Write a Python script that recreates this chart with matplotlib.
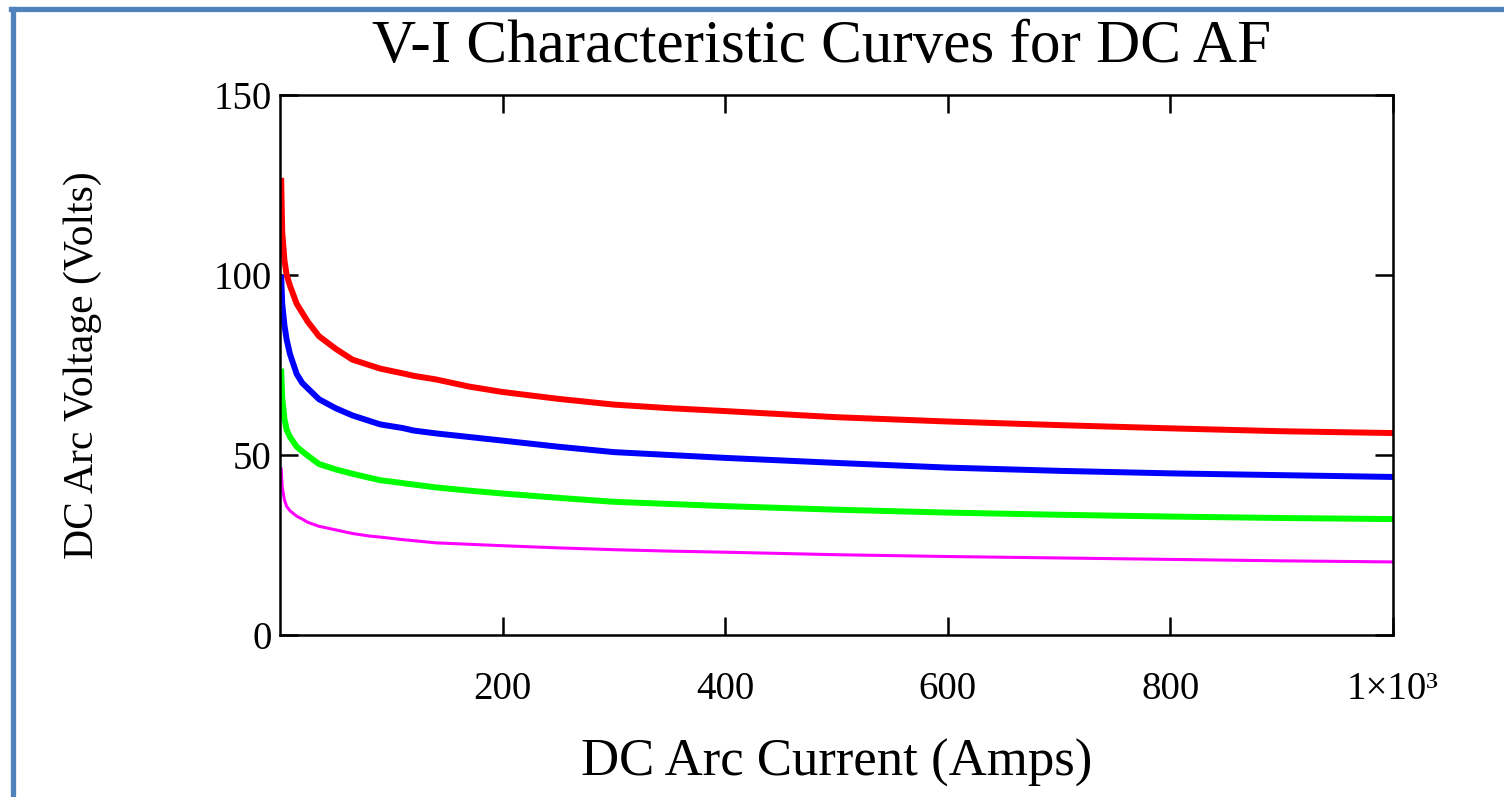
import matplotlib
matplotlib.use("Agg")
import matplotlib.pyplot as plt
from matplotlib.lines import Line2D

# corriente del arco (A) y tension de cada curva (V)
corriente = [1, 2, 4, 6, 9, 15, 20, 25, 35, 50, 65, 80, 90, 110, 120, 140, 170, 200,
             250, 300, 350, 400, 500, 600, 700, 800, 900, 1000]
v_rojo = [127, 112, 104, 100, 97, 92, 89.5, 87, 83, 79.5, 76.5, 75, 74, 72.7, 72, 71, 69, 67.5,
          65.6, 64, 63, 62.2, 60.5, 59.3, 58.3, 57.4, 56.6, 56.1]
v_azul = [100, 92, 86, 82, 78, 72.5, 70, 68.5, 65.5, 63, 61, 59.5, 58.5, 57.5, 56.8, 56, 55, 54,
          52.3, 50.8, 50, 49.2, 47.8, 46.5, 45.6, 44.9, 44.4, 43.9]
v_verde = [74, 66, 60, 57, 55, 52.3, 51, 49.8, 47.5, 46, 44.8, 43.7, 43, 42.2, 41.8, 41, 40.1, 39.3,
           38.1, 37, 36.4, 35.8, 34.8, 34, 33.4, 32.9, 32.5, 32.2]
v_magenta = [46.5, 41, 37.5, 35.7, 34.5, 33, 32.2, 31.3, 30.2, 29.2, 28.2, 27.5, 27.2, 26.5, 26.2, 25.6,
             25.2, 24.8, 24.2, 23.7, 23.3, 23, 22.3, 21.8, 21.4, 21, 20.6, 20.3]

x_ticks = [200, 400, 600, 800, 1000]
x_etiquetas = ["200", "400", "600", "800", "1\u00d710\u00b3"]
y_ticks = [0, 50, 100, 150]

plt.rcParams["font.family"] = ["Liberation Serif", "DejaVu Serif"]

fig = plt.figure(figsize=(15.04, 7.97), dpi=100)
ax = fig.add_axes([280 / 1504, 1 - 635 / 797, (1393 - 280) / 1504, (635 - 95) / 797])

ax.plot(corriente, v_rojo, color="#ff0000", lw=4.3, solid_capstyle="butt")
ax.plot(corriente, v_azul, color="#0000ff", lw=4.3, solid_capstyle="butt")
ax.plot(corriente, v_verde, color="#00ff00", lw=4.3, solid_capstyle="butt")
ax.plot(corriente, v_magenta, color="#ff00ff", lw=2.2, solid_capstyle="butt")

ax.set_xlim(0, 1000)
ax.set_ylim(0, 150)
ax.set_xticks(x_ticks)
ax.set_xticklabels(x_etiquetas)
ax.set_yticks(y_ticks)
ax.tick_params(direction="in", length=13, width=1.8, top=True, right=True,
               labelsize=28, pad=6)
ax.tick_params(axis="x", pad=26)
for s in ax.spines.values():
    s.set_linewidth(1.8)

ax.set_xlabel("DC Arc Current (Amps)", fontsize=38, labelpad=22)
ax.set_ylabel("DC Arc Voltage (Volts)", fontsize=30, labelpad=80)
fig.text(0.546, 1 - 47 / 797, "V-I Characteristic Curves for DC AF",
         fontsize=44, ha="center", va="center")

# marco azul
fig.add_artist(Line2D([12.5 / 1504, 12.5 / 1504], [-0.1, 1 - 8.5 / 797],
                      transform=fig.transFigure, color="#4f81bd", lw=3.8))
fig.add_artist(Line2D([10.5 / 1504, 1.1], [1 - 8.5 / 797, 1 - 8.5 / 797],
                      transform=fig.transFigure, color="#4f81bd", lw=3.8))

fig.savefig("out.png", dpi=100, facecolor="white")
